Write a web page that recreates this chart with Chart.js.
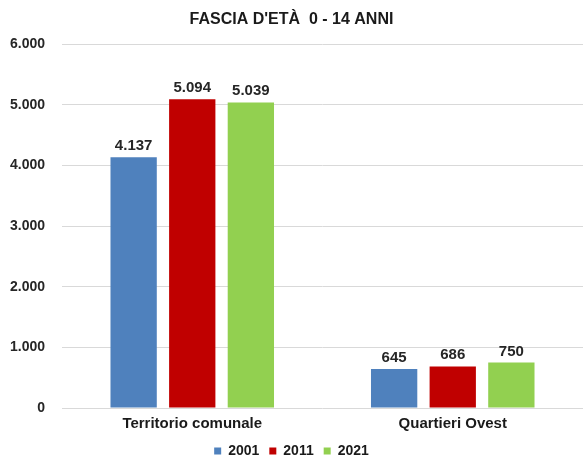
<!DOCTYPE html>
<html>
<head>
<meta charset="utf-8">
<script src="https://cdn.jsdelivr.net/npm/chart.js@4/dist/chart.umd.min.js"></script>
<style>
  html, body { margin: 0; padding: 0; background: #fff; }
  #wrap { width: 587px; height: 459px; }
</style>
</head>
<body>
<div id="wrap"><canvas id="grafico"></canvas></div>
<script>
const categorie = ["Territorio comunale", "Quartieri Ovest"]
const anni = ["2001", "2011", "2021"]
const valori2001 = [4137, 645]
const valori2011 = [5094, 686]
const valori2021 = [5039, 750]
const colori = ["#4f81bd", "#c00000", "#92d050"]
const FONT = "'Liberation Sans', Arial, sans-serif"

function formatta(n) {
  return n.toString().replace(/\B(?=(\d{3})+(?!\d))/g, ".")
}

// etichette sopra le barre
const etichette = {
  id: "etichette",
  afterDatasetsDraw(chart) {
    const ctx = chart.ctx
    ctx.save()
    ctx.font = "bold 15px " + FONT
    ctx.fillStyle = "#262626"
    ctx.textAlign = "center"
    ctx.textBaseline = "alphabetic"
    chart.data.datasets.forEach((ds, i) => {
      chart.getDatasetMeta(i).data.forEach((bar, j) => {
        ctx.fillText(formatta(ds.data[j]), bar.x, bar.y - 7)
      })
    })
    ctx.restore()
  }
}

const serie = [valori2001, valori2011, valori2021]

new Chart(document.getElementById("grafico"), {
  type: "bar",
  data: {
    labels: categorie,
    datasets: anni.map((anno, i) => ({
      label: anno,
      data: serie[i],
      backgroundColor: colori[i],
      barPercentage: 0.79,
      categoryPercentage: 0.675
    }))
  },
  options: {
    responsive: true,
    maintainAspectRatio: false,
    animation: false,
    layout: { padding: { left: 0, right: 4, top: 0, bottom: 0 } },
    plugins: {
      title: {
        display: true,
        text: "FASCIA D'ETÀ  0 - 14 ANNI",
        color: "#1a1a1a",
        font: { family: FONT, size: 16, weight: "bold" },
        padding: { top: 10, bottom: 15 }
      },
      legend: {
        position: "bottom",
        maxHeight: 25,
        labels: {
          boxWidth: 7,
          boxHeight: 7,
          padding: 10,
          color: "#1a1a1a",
          font: { family: FONT, size: 14, weight: "bold" }
        }
      },
      tooltip: { enabled: false }
    },
    scales: {
      x: {
        grid: { display: false, drawTicks: false },
        border: { display: false },
        afterFit: s => { s.height = 26 },
        ticks: {
          padding: 7,
          color: "#1a1a1a",
          font: { family: FONT, size: 15, weight: "bold" }
        }
      },
      y: {
        min: 0,
        max: 6000,
        afterFit: s => { s.width = 62 },
        ticks: {
          stepSize: 1000,
          padding: 17,
          color: "#262626",
          font: { family: FONT, size: 14, weight: "bold" },
          callback: v => formatta(v)
        },
        grid: { color: "#d9d9d9", drawTicks: false },
        border: { display: false }
      }
    }
  },
  plugins: [etichette]
})
</script>
</body>
</html>
